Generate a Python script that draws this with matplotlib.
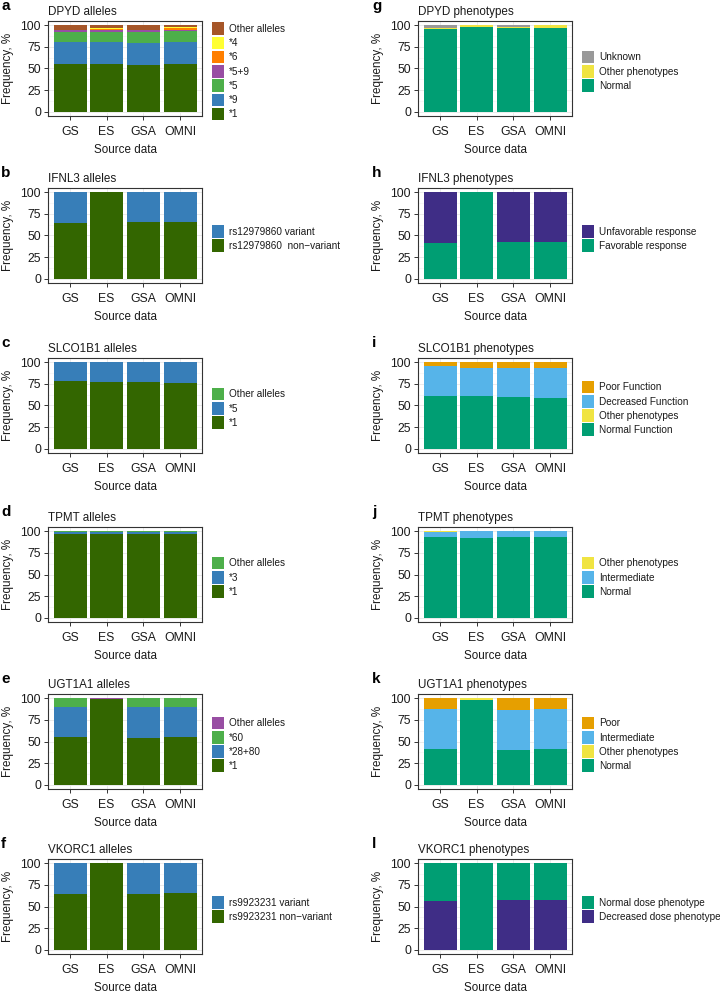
import matplotlib
matplotlib.use('Agg')
import matplotlib.pyplot as plt
from matplotlib.patches import Patch
import numpy as np

plt.rcParams['font.family'] = ['Liberation Sans', 'DejaVu Sans']

sources = ['GS', 'ES', 'GSA', 'OMNI']
y_ticks = [0, 25, 50, 75, 100]

# ---- data (stack order bottom -> top) ----
# a DPYD alleles
dpyd_allele_labels = ['*1', '*9', '*5', '*5+9', '*6', '*4', 'Other alleles']
dpyd_a1 = [55.0, 55.0, 54.5, 55.5]
dpyd_a9 = [26.0, 25.5, 25.5, 25.0]
dpyd_a5 = [11.5, 12.0, 12.5, 12.5]
dpyd_a59 = [1.5, 1.5, 1.5, 1.5]
dpyd_a6 = [1.0, 2.0, 1.0, 2.5]
dpyd_a4 = [0.0, 1.0, 0.0, 0.5]
dpyd_aother = [5.0, 3.0, 5.0, 2.5]

# g DPYD phenotypes
dpyd_pheno_labels = ['Normal', 'Other phenotypes', 'Unknown']
dpyd_normal = [96.0, 97.5, 97.0, 97.0]
dpyd_otherp = [1.0, 2.5, 0.5, 3.0]
dpyd_unknown = [3.0, 0.0, 2.5, 0.0]

# b IFNL3 alleles
ifnl3_allele_labels = ['rs12979860  non\u2212variant', 'rs12979860 variant']
ifnl3_nonvar = [64.0, 100.0, 65.5, 65.5]
ifnl3_var = [36.0, 0.0, 34.5, 34.5]

# h IFNL3 phenotypes
ifnl3_pheno_labels = ['Favorable response', 'Unfavorable response']
ifnl3_fav = [41.0, 100.0, 42.5, 42.5]
ifnl3_unfav = [59.0, 0.0, 57.5, 57.5]

# c SLCO1B1 alleles
slco_allele_labels = ['*1', '*5', 'Other alleles']
slco_a1 = [78.0, 77.5, 77.0, 76.5]
slco_a5 = [22.0, 22.5, 23.0, 23.5]
slco_aother = [0.0, 0.0, 0.0, 0.0]

# i SLCO1B1 phenotypes
slco_pheno_labels = ['Normal Function', 'Other phenotypes', 'Decreased Function', 'Poor Function']
slco_normal = [60.5, 60.5, 59.4, 58.6]
slco_otherp = [0.0, 0.0, 0.0, 0.0]
slco_decr = [35.3, 33.4, 34.6, 35.4]
slco_poor = [4.2, 6.1, 6.0, 6.0]

# d TPMT alleles
tpmt_allele_labels = ['*1', '*3', 'Other alleles']
tpmt_a1 = [97.0, 96.5, 97.0, 97.0]
tpmt_a3 = [2.7, 3.0, 2.7, 2.7]
tpmt_aother = [0.3, 0.5, 0.3, 0.3]

# j TPMT phenotypes
tpmt_pheno_labels = ['Normal', 'Intermediate', 'Other phenotypes']
tpmt_normal = [94.0, 92.5, 93.5, 93.5]
tpmt_inter = [5.0, 7.5, 6.5, 6.5]
tpmt_otherp = [1.0, 0.0, 0.0, 0.0]

# e UGT1A1 alleles
ugt_allele_labels = ['*1', '*28+80', '*60', 'Other alleles']
ugt_a1 = [55.6, 99.2, 54.4, 55.6]
ugt_a2880 = [34.4, 0.0, 35.6, 34.4]
ugt_a60 = [10.0, 0.5, 10.0, 10.0]
ugt_aother = [0.0, 0.3, 0.0, 0.0]

# k UGT1A1 phenotypes
ugt_pheno_labels = ['Normal', 'Other phenotypes', 'Intermediate', 'Poor']
ugt_normal = [41.8, 98.0, 40.2, 41.8]
ugt_otherp = [0.0, 2.0, 0.0, 0.0]
ugt_inter = [45.6, 0.0, 46.0, 45.6]
ugt_poor = [12.6, 0.0, 13.8, 12.6]

# f VKORC1 alleles
vkorc_allele_labels = ['rs9923231 non\u2212variant', 'rs9923231 variant']
vkorc_nonvar = [65.0, 100.0, 65.0, 65.5]
vkorc_var = [35.0, 0.0, 35.0, 34.5]

# l VKORC1 phenotypes
vkorc_pheno_labels = ['Decreased dose phenotype', 'Normal dose phenotype']
vkorc_decr = [56.5, 0.0, 57.0, 57.0]
vkorc_normal = [43.5, 100.0, 43.0, 43.0]

# ---- colours ----
C_A1 = '#336600'
C_BLUE = '#377EB8'
C_GREEN = '#4DAF4A'
C_PURPLE = '#984EA3'
C_ORANGE = '#FF7F00'
C_YELLOW = '#FFFF33'
C_BROWN = '#A65628'
C_NORMAL = '#009E73'
C_OTHERP = '#F0E442'
C_UNKNOWN = '#999999'
C_INTER = '#56B4E9'
C_POOR = '#E69F00'
C_UNFAV = '#3F2D86'

panels = [
    ('a', 'DPYD alleles', dpyd_allele_labels,
     [dpyd_a1, dpyd_a9, dpyd_a5, dpyd_a59, dpyd_a6, dpyd_a4, dpyd_aother],
     [C_A1, C_BLUE, C_GREEN, C_PURPLE, C_ORANGE, C_YELLOW, C_BROWN], 0, 0),
    ('b', 'IFNL3 alleles', ifnl3_allele_labels, [ifnl3_nonvar, ifnl3_var],
     [C_A1, C_BLUE], 0, 1),
    ('c', 'SLCO1B1 alleles', slco_allele_labels, [slco_a1, slco_a5, slco_aother],
     [C_A1, C_BLUE, C_GREEN], 0, 2),
    ('d', 'TPMT alleles', tpmt_allele_labels, [tpmt_a1, tpmt_a3, tpmt_aother],
     [C_A1, C_BLUE, C_GREEN], 0, 3),
    ('e', 'UGT1A1 alleles', ugt_allele_labels, [ugt_a1, ugt_a2880, ugt_a60, ugt_aother],
     [C_A1, C_BLUE, C_GREEN, C_PURPLE], 0, 4),
    ('f', 'VKORC1 alleles', vkorc_allele_labels, [vkorc_nonvar, vkorc_var],
     [C_A1, C_BLUE], 0, 5),
    ('g', 'DPYD phenotypes', dpyd_pheno_labels, [dpyd_normal, dpyd_otherp, dpyd_unknown],
     [C_NORMAL, C_OTHERP, C_UNKNOWN], 1, 0),
    ('h', 'IFNL3 phenotypes', ifnl3_pheno_labels, [ifnl3_fav, ifnl3_unfav],
     [C_NORMAL, C_UNFAV], 1, 1),
    ('i', 'SLCO1B1 phenotypes', slco_pheno_labels, [slco_normal, slco_otherp, slco_decr, slco_poor],
     [C_NORMAL, C_OTHERP, C_INTER, C_POOR], 1, 2),
    ('j', 'TPMT phenotypes', tpmt_pheno_labels, [tpmt_normal, tpmt_inter, tpmt_otherp],
     [C_NORMAL, C_INTER, C_OTHERP], 1, 3),
    ('k', 'UGT1A1 phenotypes', ugt_pheno_labels, [ugt_normal, ugt_otherp, ugt_inter, ugt_poor],
     [C_NORMAL, C_OTHERP, C_INTER, C_POOR], 1, 4),
    ('l', 'VKORC1 phenotypes', vkorc_pheno_labels, [vkorc_decr, vkorc_normal],
     [C_UNFAV, C_NORMAL], 1, 5),
]

W, H = 720, 993
fig = plt.figure(figsize=(W / 100, H / 100), dpi=100)

col_left = [48, 418]
ax_w = 154
ax_h = 95
row_top = [21, 188, 358, 527, 694, 859]
letter_x = [1, 372]

TXT = '#1A1A1A'
x = np.arange(1, len(sources) + 1)

for letter, title, labels, series, colors, col, row in panels:
    l = col_left[col] / W
    b = 1 - (row_top[row] + ax_h) / H
    ax = fig.add_axes([l, b, ax_w / W, ax_h / H])
    bottom = np.zeros(len(sources))
    for vals, c in zip(series, colors):
        v = np.array(vals)
        ax.bar(x, v, width=0.9, bottom=bottom, color=c, linewidth=0, zorder=2)
        bottom += v
    ax.set_xlim(0.4, 4.6)
    ax.set_ylim(-5, 105)
    ax.set_xticks(x)
    ax.set_xticklabels(sources)
    ax.set_yticks(y_ticks)
    ax.set_yticks([12.5, 37.5, 62.5, 87.5], minor=True)
    ax.tick_params(axis='both', which='major', length=3, width=0.7, color='#333333',
                   labelsize=8.8, labelcolor=TXT)
    ax.tick_params(axis='x', which='major', pad=4.5)
    ax.tick_params(axis='y', which='major', pad=2)
    ax.tick_params(axis='y', which='minor', length=0)
    ax.grid(True, which='major', color='#EBEBEB', linewidth=0.7, zorder=0)
    ax.grid(True, which='minor', axis='y', color='#F2F2F2', linewidth=0.4, zorder=0)
    ax.set_axisbelow(True)
    for s in ax.spines.values():
        s.set_color('#333333')
        s.set_linewidth(0.8)
    ax.set_title(title, loc='left', fontsize=8.4, color=TXT, pad=4.5)
    ax.set_ylabel('Frequency, %', fontsize=8.4, color=TXT)
    ax.yaxis.set_label_coords(-0.24, 0.5)
    ax.yaxis.label.set_verticalalignment('baseline')
    ax.set_xlabel('Source data', fontsize=8.4, color=TXT)
    ax.xaxis.set_label_coords(0.5, -0.385)
    ax.xaxis.label.set_verticalalignment('baseline')

    handles = [Patch(facecolor=c, edgecolor='none', label=lab)
               for lab, c in zip(labels, colors)][::-1]
    ax.legend(handles=handles, loc='center left', bbox_to_anchor=(1.065, 0.47),
              frameon=False, fontsize=7.2, handlelength=1.2, handleheight=1.55,
              handletextpad=0.5, labelspacing=0.17, borderpad=0, borderaxespad=0,
              labelcolor=TXT)

    fig.text(letter_x[col] / W, 1 - (row_top[row] - 11) / H, letter,
             fontsize=11, fontweight='bold', color='black', va='baseline', ha='left')

fig.savefig('out.png', dpi=100)
